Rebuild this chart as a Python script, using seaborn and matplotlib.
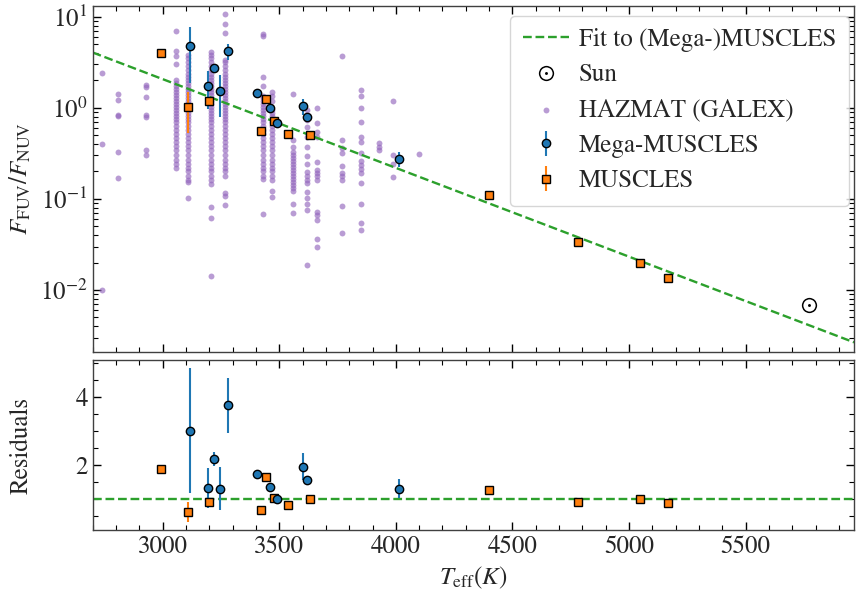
import numpy as np
import pandas as pd
import matplotlib
matplotlib.use("Agg")
import matplotlib.pyplot as plt
import seaborn as sns
from matplotlib.ticker import LogLocator, MultipleLocator, NullFormatter

# ---------------------------------------------------------------------------
# HAZMAT (GALEX) sample: one list of FUV/NUV ratios per effective temperature
# ---------------------------------------------------------------------------
hazmat_teff = [2739, 2810, 2929, 3058, 3108, 3208, 3268, 3429, 3469,
               3559, 3619, 3660, 3770, 3849, 3928, 3989, 4100]
hazmat_ratio = [
    [2.4, 0.40, 0.0099],
    [1.40, 1.22, 0.83, 0.82, 0.33, 0.17],
    [1.78, 1.70, 1.32, 0.83, 0.79, 0.34, 0.30],
    [7.0, 4.2, 3.7, 3.0, 2.01, 1.87, 1.73, 1.60, 1.49, 1.38, 1.28, 1.19, 1.10,
     1.02, 0.94, 0.87, 0.81, 0.75, 0.70, 0.63, 0.57, 0.51, 0.47, 0.42, 0.38,
     0.34, 0.30, 0.27, 0.24, 0.22],
    [3.80, 3.52, 3.18, 2.87, 2.60, 2.35, 2.17, 2.01, 1.87, 1.73, 1.60, 1.49,
     1.38, 1.28, 1.19, 1.10, 1.02, 0.94, 0.87, 0.81, 0.75, 0.70, 0.63, 0.57,
     0.51, 0.47, 0.42, 0.38, 0.34, 0.30, 0.27, 0.24, 0.22, 0.20, 0.18, 0.16,
     0.153, 0.102],
    [4.09, 3.80, 3.52, 3.18, 2.87, 2.60, 2.35, 2.17, 2.01, 1.87, 1.73, 1.60,
     1.49, 1.38, 1.28, 1.19, 1.10, 1.02, 0.94, 0.87, 0.81, 0.75, 0.70, 0.63,
     0.57, 0.51, 0.47, 0.42, 0.38, 0.34, 0.30, 0.27, 0.24, 0.22, 0.20, 0.18,
     0.16, 0.145, 0.082, 0.061, 0.0142],
    [10.7, 8.3, 6.6, 3.34, 3.18, 2.87, 2.60, 2.35, 2.17, 2.01, 1.87, 1.73,
     1.60, 1.49, 1.38, 1.28, 1.19, 1.10, 1.02, 0.94, 0.87, 0.81, 0.75, 0.70,
     0.63, 0.57, 0.51, 0.47, 0.42, 0.38, 0.34, 0.30, 0.27, 0.24, 0.22, 0.20,
     0.18, 0.117, 0.107, 0.085],
    [6.4, 6.2, 2.19, 1.74, 1.34, 1.28, 1.19, 1.10, 1.02, 0.94, 0.87, 0.81,
     0.75, 0.70, 0.63, 0.57, 0.51, 0.47, 0.42, 0.38, 0.34, 0.30, 0.27, 0.24,
     0.22, 0.20, 0.18, 0.165, 0.0685],
    [1.50, 1.34, 1.19, 0.94, 0.87, 0.81, 0.75, 0.70, 0.63, 0.57, 0.51, 0.47,
     0.42, 0.38, 0.34, 0.30, 0.27, 0.24, 0.22, 0.20, 0.18, 0.162, 0.121, 0.105],
    [1.40, 0.44, 0.37, 0.326, 0.30, 0.281, 0.26, 0.24, 0.223, 0.207, 0.192,
     0.178, 0.165, 0.153, 0.142, 0.131, 0.122, 0.0875, 0.0691],
    [0.94, 0.73, 0.61, 0.48, 0.37, 0.294, 0.24, 0.197, 0.178, 0.160, 0.149,
     0.119, 0.102, 0.0875, 0.0751, 0.0190],
    [1.0, 0.68, 0.545, 0.48, 0.255, 0.207, 0.192, 0.178, 0.160, 0.072, 0.0662,
     0.0583, 0.0367, 0.0297],
    [3.72, 0.44, 0.36, 0.318, 0.229, 0.192, 0.178, 0.160, 0.0838, 0.0417],
    [1.565, 1.345, 0.985, 0.702, 0.477, 0.417, 0.320, 0.262, 0.235, 0.212,
     0.190, 0.150, 0.0868, 0.0537, 0.0453],
    [0.406, 0.373, 0.343],
    [1.19, 0.302, 0.241, 0.172],
    [0.312],
]

# Mega-MUSCLES stars
mega_teff = [3118, 3195, 3221, 3247, 3279, 3403, 3459, 3491, 3600, 3620, 4013]
mega_ratio = [4.76, 1.745, 2.71, 1.54, 4.17, 1.44, 1.0, 0.684, 1.04, 0.796, 0.273]
mega_ratio_err = [2.9, 0.78, 0.27, 0.75, 0.86, 0.05, 0.04, 0.03, 0.21, 0.03, 0.05]
mega_resid = [3.01, 1.32, 2.17, 1.30, 3.76, 1.74, 1.36, 0.99, 1.95, 1.56, 1.30]
mega_resid_err = [1.85, 0.60, 0.21, 0.64, 0.82, 0.04, 0.04, 0.04, 0.40, 0.04, 0.28]

# MUSCLES stars
muscles_teff = [2991, 3110, 3200, 3423, 3443, 3477, 3538, 3631, 4400, 4783, 5049, 5169]
muscles_ratio = [3.96, 1.01, 1.20, 0.555, 1.25, 0.72, 0.51, 0.50, 0.11, 0.0337, 0.020, 0.0137]
muscles_ratio_err = [0.05, 0.48, 0.05, 0.02, 0.05, 0.03, 0.02, 0.02, 0.004, 0.001, 0.001, 0.0005]
muscles_resid = [1.88, 0.61, 0.90, 0.68, 1.64, 1.02, 0.82, 0.99, 1.26, 0.90, 0.99, 0.88]
muscles_resid_err = [0.03, 0.30, 0.03, 0.02, 0.03, 0.03, 0.02, 0.02, 0.03, 0.02, 0.02, 0.02]

# The Sun
sun_teff = 5772
sun_ratio = 0.0068

# Exponential fit: log10(F_FUV/F_NUV) = intercept + slope * Teff
fit_intercept = 3.238
fit_slope = -9.745e-4

x_limits = (2700, 5965)

# ---------------------------------------------------------------------------
sns.set_style("ticks")
plt.rcParams.update({
    "font.family": ["STIXGeneral", "DejaVu Serif"],
    "mathtext.fontset": "stix",
    "font.size": 18,
    "axes.linewidth": 1.0,
    "axes.edgecolor": "0.25",
})

purple = sns.color_palette("tab10")[4]
blue = sns.color_palette("tab10")[0]
orange = sns.color_palette("tab10")[1]
green = sns.color_palette("tab10")[2]

fig = plt.figure(figsize=(8.56, 5.93), dpi=100)
ax1 = fig.add_axes([0.1083, 0.4069, 0.8894, 0.5835])
ax2 = fig.add_axes([0.1083, 0.1062, 0.8894, 0.2867], sharex=ax1)

hazmat = pd.DataFrame({
    "teff": np.repeat(hazmat_teff, [len(v) for v in hazmat_ratio]),
    "ratio": np.concatenate(hazmat_ratio),
})

# --- top panel ---
t_grid = np.linspace(*x_limits, 200)
fit_line, = ax1.plot(t_grid, 10 ** (fit_intercept + fit_slope * t_grid),
                     ls="--", color=green, lw=1.7, zorder=2,
                     label="Fit to (Mega-)MUSCLES")
sun_h, = ax1.plot([sun_teff], [sun_ratio], ls="none", marker=r"$\odot$",
                  color="black", markersize=11, markeredgewidth=0,
                  zorder=4, label="Sun")
sns.scatterplot(data=hazmat, x="teff", y="ratio", ax=ax1, color=purple,
                alpha=0.65, s=18, linewidth=0, zorder=1, legend=False)
haz_h = ax1.collections[-1]
haz_h.set_label("HAZMAT (GALEX)")

mus_h = ax1.errorbar(muscles_teff, muscles_ratio, yerr=muscles_ratio_err,
                     fmt="s", color=orange, ecolor=orange, elinewidth=1.5,
                     mfc=orange, mec="black", mew=1.0, ms=5.5, zorder=3,
                     label="MUSCLES")
mega_h = ax1.errorbar(mega_teff, mega_ratio, yerr=mega_ratio_err,
                      fmt="o", color=blue, ecolor=blue, elinewidth=1.5,
                      mfc=blue, mec="black", mew=1.0, ms=6, zorder=3,
                      label="Mega-MUSCLES")

ax1.set_yscale("log")
ax1.set_ylim(0.0021, 13.2)
ax1.set_xlim(*x_limits)
ax1.yaxis.set_major_locator(LogLocator(base=10))
ax1.yaxis.set_minor_locator(LogLocator(base=10, subs=np.arange(2, 10)))
ax1.yaxis.set_minor_formatter(NullFormatter())
ax1.set_ylabel(r"$F_{\rm FUV}/F_{\rm NUV}$")
plt.setp(ax1.get_xticklabels(), visible=False)

ax_w_px = 0.8894 * 856
ax_h_px = 0.5835 * 593
leg = ax1.legend([fit_line, sun_h, haz_h, mega_h, mus_h],
                 ["Fit to (Mega-)MUSCLES", "Sun", "HAZMAT (GALEX)",
                  "Mega-MUSCLES", "MUSCLES"],
                 loc="upper right",
                 bbox_to_anchor=(1 - 5 / ax_w_px, 1 - 10 / ax_h_px),
                 borderaxespad=0.0, fontsize=18, handletextpad=0.4,
                 handlelength=1.85, borderpad=0.5, labelspacing=0.45,
                 fancybox=True, edgecolor="0.8", framealpha=0.8)

# --- residual panel ---
ax2.axhline(1.0, ls="--", color=green, lw=1.7, zorder=2)
ax2.errorbar(muscles_teff, muscles_resid, yerr=muscles_resid_err,
             fmt="s", color=orange, ecolor=orange, elinewidth=1.5,
             mfc=orange, mec="black", mew=1.0, ms=5.5, zorder=3)
ax2.errorbar(mega_teff, mega_resid, yerr=mega_resid_err,
             fmt="o", color=blue, ecolor=blue, elinewidth=1.5,
             mfc=blue, mec="black", mew=1.0, ms=6, zorder=3)
ax2.set_ylim(0.08, 5.1)
ax2.yaxis.set_major_locator(MultipleLocator(2))
ax2.yaxis.set_minor_locator(MultipleLocator(0.5))
ax2.xaxis.set_major_locator(MultipleLocator(500))
ax2.xaxis.set_minor_locator(MultipleLocator(100))
ax2.set_ylabel("Residuals")
ax2.set_xlabel(r"$T_{\rm eff} (K)$")

for ax in (ax1, ax2):
    ax.tick_params(which="both", direction="in", top=True, right=True,
                   color="black", labelsize=18)
    ax.tick_params(which="major", length=6, width=1.0)
    ax.tick_params(which="minor", length=3.5, width=0.8)

for ax in (ax1, ax2):
    ax.yaxis.set_label_coords(-0.078, 0.5)

fig.savefig("out.png", dpi=100)
